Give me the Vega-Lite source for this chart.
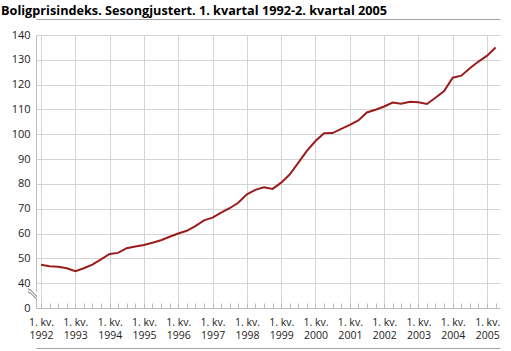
{
  "$schema": "https://vega.github.io/schema/vega-lite/v6.json",
  "autosize": {"type": "none"},
  "width": 464,
  "height": 273,
  "padding": {"left": 36, "top": 35, "right": 11, "bottom": 43},
  "title": {
    "text": "Boligprisindeks. Sesongjustert. 1. kvartal 1992-2. kvartal 2005",
    "anchor": "start", "frame": "group", "dx": -35, "baseline": "alphabetic", "offset": -9,
    "font": "Open Sans", "fontSize": 12.7, "fontWeight": "bold", "color": "#000"
  },
  "config": {"view": {"stroke": null}, "font": "Open Sans"},
  "data": {"values": [
    {"dato": "1992-01-01", "indeks": 47.4}, {"dato": "1992-04-01", "indeks": 46.8}, {"dato": "1992-07-01", "indeks": 46.6}, {"dato": "1992-10-01", "indeks": 46.0},
    {"dato": "1993-01-01", "indeks": 44.8}, {"dato": "1993-04-01", "indeks": 46.0}, {"dato": "1993-07-01", "indeks": 47.5}, {"dato": "1993-10-01", "indeks": 49.6},
    {"dato": "1994-01-01", "indeks": 51.8}, {"dato": "1994-04-01", "indeks": 52.2}, {"dato": "1994-07-01", "indeks": 54.1}, {"dato": "1994-10-01", "indeks": 54.8},
    {"dato": "1995-01-01", "indeks": 55.4}, {"dato": "1995-04-01", "indeks": 56.3}, {"dato": "1995-07-01", "indeks": 57.3}, {"dato": "1995-10-01", "indeks": 58.7},
    {"dato": "1996-01-01", "indeks": 60.0}, {"dato": "1996-04-01", "indeks": 61.1}, {"dato": "1996-07-01", "indeks": 63.0}, {"dato": "1996-10-01", "indeks": 65.3},
    {"dato": "1997-01-01", "indeks": 66.4}, {"dato": "1997-04-01", "indeks": 68.4}, {"dato": "1997-07-01", "indeks": 70.2}, {"dato": "1997-10-01", "indeks": 72.4},
    {"dato": "1998-01-01", "indeks": 75.8}, {"dato": "1998-04-01", "indeks": 77.6}, {"dato": "1998-07-01", "indeks": 78.6}, {"dato": "1998-10-01", "indeks": 78.0},
    {"dato": "1999-01-01", "indeks": 80.5}, {"dato": "1999-04-01", "indeks": 83.8}, {"dato": "1999-07-01", "indeks": 88.5}, {"dato": "1999-10-01", "indeks": 93.3},
    {"dato": "2000-01-01", "indeks": 97.3}, {"dato": "2000-04-01", "indeks": 100.4}, {"dato": "2000-07-01", "indeks": 100.5}, {"dato": "2000-10-01", "indeks": 102.2},
    {"dato": "2001-01-01", "indeks": 103.8}, {"dato": "2001-04-01", "indeks": 105.6}, {"dato": "2001-07-01", "indeks": 108.8}, {"dato": "2001-10-01", "indeks": 109.9},
    {"dato": "2002-01-01", "indeks": 111.2}, {"dato": "2002-04-01", "indeks": 112.8}, {"dato": "2002-07-01", "indeks": 112.3}, {"dato": "2002-10-01", "indeks": 113.1},
    {"dato": "2003-01-01", "indeks": 112.9}, {"dato": "2003-04-01", "indeks": 112.2}, {"dato": "2003-07-01", "indeks": 114.7}, {"dato": "2003-10-01", "indeks": 117.4},
    {"dato": "2004-01-01", "indeks": 122.8}, {"dato": "2004-04-01", "indeks": 123.6}, {"dato": "2004-07-01", "indeks": 126.6}, {"dato": "2004-10-01", "indeks": 129.3},
    {"dato": "2005-01-01", "indeks": 131.7}, {"dato": "2005-04-01", "indeks": 135.0}
  ]},
  "resolve": {"axis": {"x": "independent"}},
  "layer": [
    {
      "mark": {"type": "line", "color": "#9c1c1c", "strokeWidth": 2},
      "encoding": {
        "x": {
          "field": "dato", "type": "temporal",
          "scale": {"type": "utc", "domain": [{"year": 1991, "month": 11, "date": 9, "utc": true}, {"year": 2005, "month": 5, "date": 18, "utc": true}], "nice": false},
          "axis": {
            "orient": "bottom", "title": null,
            "tickCount": {"interval": "month", "step": 3},
            "ticks": true, "tickSize": -5, "tickColor": "#bdbdbd",
            "domain": true, "domainColor": "#bdbdbd",
            "grid": true, "gridColor": "#d4d4d4",
            "gridOpacity": {"condition": {"test": "utcmonth(datum.value) == 0", "value": 1}, "value": 0},
            "labelExpr": "utcmonth(datum.value) == 0 ? ['1. kv.', utcFormat(datum.value, '%Y')] : ''",
            "labelFont": "Open Sans", "labelFontSize": 10.5, "labelColor": "#222",
            "labelLineHeight": 13, "labelPadding": 14, "labelBaseline": "top",
            "labelOverlap": false, "labelFlush": false, "labelBound": false
          }
        },
        "y": {
          "field": "indeks", "type": "quantitative",
          "scale": {"domain": [30, 140], "nice": false, "zero": false},
          "axis": {
            "title": null, "values": [30, 40, 50, 60, 70, 80, 90, 100, 110, 120, 130, 140],
            "tickCount": 12,
            "labelExpr": "datum.value == 30 ? '0' : datum.label",
            "labelOverlap": false, "labelBound": false, "labelFlush": false,
            "ticks": false, "domain": true, "domainColor": "#bdbdbd",
            "grid": true, "gridColor": "#d4d4d4",
            "gridOpacity": {"condition": {"test": "datum.value == 30", "value": 0}, "value": 1},
            "labelFont": "Open Sans", "labelFontSize": 11, "labelColor": "#222", "labelPadding": 6
          }
        }
      }
    },
    {
      "mark": {"type": "rule", "color": "white", "strokeWidth": 3},
      "encoding": {
        "x": {"datum": {"year": 1991, "month": 11, "date": 9, "utc": true}, "type": "temporal", "axis": {"orient": "top", "offset": 16, "title": null, "labels": false, "ticks": false, "grid": false, "domain": true, "domainColor": "#a0a0a0"}},
        "y": {"datum": 33.6, "type": "quantitative"},
        "y2": {"datum": 36.2}
      }
    },
    {
      "mark": {"type": "rule", "color": "#b0b0b0", "strokeWidth": 1},
      "encoding": {
        "x": {"datum": {"year": 1991, "month": 8, "date": 25, "utc": true}, "type": "temporal", "axis": {"orient": "bottom", "offset": 40, "title": null, "labels": false, "ticks": false, "grid": false, "domain": true, "domainColor": "#a0a0a0"}},
        "x2": {"datum": {"year": 1991, "month": 11, "date": 18, "utc": true}},
        "y": {"datum": 37.65, "type": "quantitative"},
        "y2": {"datum": 34.83}
      }
    },
    {
      "mark": {"type": "rule", "color": "#b0b0b0", "strokeWidth": 1},
      "encoding": {
        "x": {"datum": {"year": 1991, "month": 8, "date": 25, "utc": true}, "type": "temporal", "axis": null},
        "x2": {"datum": {"year": 1991, "month": 11, "date": 18, "utc": true}},
        "y": {"datum": 36.45, "type": "quantitative"},
        "y2": {"datum": 33.62}
      }
    }
  ]
}
